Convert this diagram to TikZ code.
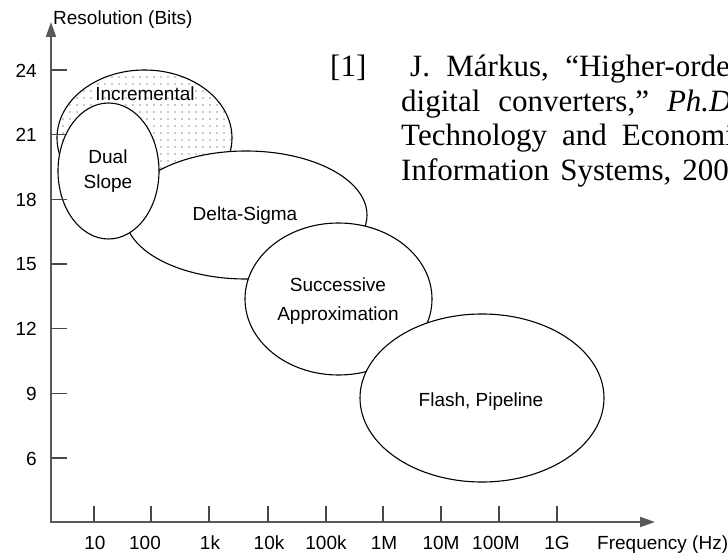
\documentclass[tikz,border=0pt]{standalone}
\usepackage{fontspec}
\setmainfont{Liberation Serif}
\newfontfamily\arialf{Liberation Sans}
\usetikzlibrary{arrows.meta,patterns.meta,shapes.geometric}
\begin{document}
\begin{tikzpicture}[x=1pt,y=-1pt,
  axisline/.style={draw=black!65,line width=1.9pt},
  tickline/.style={draw=black!72,line width=1.3pt},
  region/.style={ellipse,draw=black,line width=1.1pt,fill=white,inner sep=0pt},
  lbl/.style={font=\arialf\fontsize{19}{23}\selectfont,inner sep=0pt,anchor=base},
  reftext/.style={font=\fontsize{31}{36}\selectfont,inner sep=0pt,anchor=base west}]
\useasboundingbox (0,0) rectangle (728,553);
\clip (0,0) rectangle (728,553);
% regions
\node[region,fill=none,pattern={Dots[distance=7pt,radius=0.7pt]},pattern color=black!90,
  minimum width=175pt,minimum height=136pt] (inc) at (144.5,138) {};
\node[region,minimum width=242pt,minimum height=128pt] (ds) at (246,215) {};
\node[region,minimum width=101pt,minimum height=136pt] (dual) at (108.5,171) {};
\node[region,minimum width=187pt,minimum height=152pt] (sa) at (338.5,299) {};
\node[region,minimum width=244pt,minimum height=168pt] (fp) at (482,398) {};
% region labels
\node[lbl] (linc) at (145,101) {Incremental};
\node[lbl] (ldual1) at (108,164) {Dual};
\node[lbl] (ldual2) at (108,189) {Slope};
\node[lbl] (lds) at (245,221) {Delta-Sigma};
\node[lbl] (lsa1) at (338,292) {Successive};
\node[lbl] (lsa2) at (338,320) {Approximation};
\node[lbl] (lfp) at (481,406) {Flash, Pipeline};
% axes
\coordinate (o) at (51,522);
\coordinate (ytip) at (51,22);
\coordinate (xtip) at (655,522);
\draw[axisline,{Triangle[length=15pt,width=10pt]}-{Triangle[length=15pt,width=10pt]}] (ytip) -- (o) -- (xtip);
\node[lbl,anchor=base west] (ylab) at (53,24.5) {Resolution (Bits)};
\node[lbl,anchor=base west] (xlab) at (597,549) {Frequency (Hz)};
% y ticks
\foreach \v/\yy in {24/70,21/134.7,18/199.3,15/264,12/328.7,9/393.4,6/458}{
  \draw[tickline] (51,\yy) -- (67,\yy);
  \node[lbl,anchor=east] (yt\v) at (37,\yy+0.5) {\v};
}
% x ticks
\foreach \i/\xx/\lx/\t in {1/94/95/10,2/151/145/100,3/209/210/1k,4/268/269/10k,5/326/326/100k,6/383/384/1M,7/441/441/10M,8/499/496/100M,9/557/557/1G}{
  \draw[tickline] (\xx,506) -- (\xx,522);
  \node[lbl] (xt\i) at (\lx,549) {\t};
}
% reference text (clipped at the right edge, as in the original)
\node[reftext] (r0) at (330,77) {[1]};
\node[reftext] (r1) at (410,77) {J.\hspace{16.4pt}Márkus,\hspace{16.4pt}“Higher-order};
\node[reftext] (r2) at (401,111.5) {digital\hspace{18pt}converters,”\hspace{18pt}\textit{Ph.D.}};
\node[reftext] (r3) at (401,146) {Technology\hspace{15pt}and\hspace{15pt}Economics,};
\node[reftext] (r4) at (401,180.5) {Information\hspace{11pt}Systems,\hspace{11pt}2005.};
\end{tikzpicture}
\end{document}
